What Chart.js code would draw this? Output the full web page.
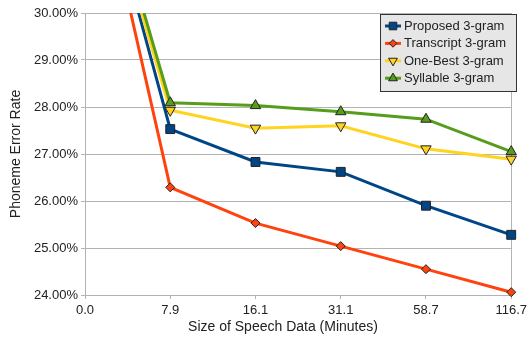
<!DOCTYPE html>
<html>
<head>
<meta charset="utf-8">
<script src="https://cdn.jsdelivr.net/npm/chart.js@4/dist/chart.umd.min.js"></script>
<style>
  html, body { margin: 0; padding: 0; background: #fff; }
  #wrap { width: 531px; height: 340px; }
</style>
</head>
<body>
<div id="wrap"><canvas id="perChart" width="531" height="340"></canvas></div>
<script>
// x categories (minutes of speech data)
let sizes = ['0.0', '7.9', '16.1', '31.1', '58.7', '116.7'];

// phoneme error rate in %, first point lies above the plotted range
let proposed   = [34.2, 27.53, 26.83, 26.62, 25.90, 25.28];
let transcript = [34.3, 26.29, 25.53, 25.04, 24.55, 24.06];
let oneBest    = [34.1, 27.93, 27.55, 27.60, 27.11, 26.89];
let syllable   = [34.3, 28.09, 28.03, 27.90, 27.74, 27.05];

let seriesNames = ['Proposed 3-gram', 'Transcript 3-gram', 'One-Best 3-gram', 'Syllable 3-gram'];

let yMin = 24;
let yMax = 30;

const FONT = 'Liberation Sans, Arial, sans-serif';
const GRID = '#b3b3b3';
const TEXT = '#222';
const EDGE = '#222';

const ctx_per = document.getElementById('perChart').getContext('2d');

function series(label, data, color, style, radius, rotation, order) {
    return {
        label: label,
        data: data,
        borderColor: color,
        backgroundColor: color,
        borderWidth: 3,
        pointStyle: style,
        pointRadius: radius,
        pointRotation: rotation,
        pointBackgroundColor: color,
        pointBorderColor: EDGE,
        pointBorderWidth: 1,
        tension: 0,
        fill: false,
        order: order,
        clip: { left: 0, top: 0, right: 10, bottom: 10 }
    };
}

// draw a marker by hand for the legend
function marker(c, style, x, y, r, rot, fill) {
    c.save();
    c.fillStyle = fill;
    c.strokeStyle = EDGE;
    c.lineWidth = 1;
    c.beginPath();
    if (style === 'rect') {
        let s = r * Math.SQRT1_2;
        c.rect(x - s, y - s, 2 * s, 2 * s);
    } else if (style === 'rectRot') {
        c.moveTo(x, y - r); c.lineTo(x + r, y); c.lineTo(x, y + r); c.lineTo(x - r, y);
        c.closePath();
    } else {
        let a = rot * Math.PI / 180;
        for (let i = 0; i < 3; i++) {
            let px = x + Math.sin(a) * r, py = y - Math.cos(a) * r;
            if (i === 0) c.moveTo(px, py); else c.lineTo(px, py);
            a += 2 * Math.PI / 3;
        }
        c.closePath();
    }
    c.fill();
    c.stroke();
    c.restore();
}

const extras = {
    id: 'extras',
    afterDraw(chart) {
        const c = chart.ctx;
        // x axis title
        c.save();
        c.font = '14px ' + FONT;
        c.fillStyle = TEXT;
        c.textAlign = 'center';
        c.textBaseline = 'middle';
        c.fillText('Size of Speech Data (Minutes)', 283, 327);
        c.restore();

        // legend box
        c.save();
        c.fillStyle = '#e6e6e6';
        c.fillRect(380, 14, 137, 77);
        c.strokeStyle = '#333';
        c.lineWidth = 1;
        c.strokeRect(380.5, 14.5, 136, 77);
        c.font = '13px ' + FONT;
        c.textBaseline = 'middle';
        c.textAlign = 'left';
        chart.data.datasets.forEach((ds, i) => {
            let y = 26 + i * 17.4;
            c.strokeStyle = ds.borderColor;
            c.lineWidth = 3;
            c.beginPath();
            c.moveTo(385, y);
            c.lineTo(401, y);
            c.stroke();
            marker(c, ds.pointStyle, 393, y, ds.pointRadius * 0.85, ds.pointRotation, ds.borderColor);
            c.fillStyle = TEXT;
            c.fillText(ds.label, 404, y + 0.5);
        });
        c.restore();
    }
};

let perChart = new Chart(ctx_per, {
    type: 'line',
    data: {
        labels: sizes,
        datasets: [
            series(seriesNames[0], proposed, '#004586', 'rect', 6.3, 0, 4),
            series(seriesNames[1], transcript, '#ff420e', 'rectRot', 4.5, 0, 3),
            series(seriesNames[2], oneBest, '#ffd320', 'triangle', 6, 180, 2),
            series(seriesNames[3], syllable, '#579d1c', 'triangle', 6, 0, 1)
        ]
    },
    options: {
        responsive: false,
        animation: false,
        layout: { padding: { top: 13, right: 16, left: 0, bottom: 0 } },
        plugins: {
            legend: { display: false },
            tooltip: { enabled: false }
        },
        scales: {
            x: {
                type: 'category',
                offset: false,
                grid: {
                    color: c => c.index === sizes.length - 1 ? GRID : 'rgba(0,0,0,0)',
                    tickColor: GRID,
                    tickLength: 4
                },
                border: { color: GRID },
                ticks: {
                    font: { family: FONT, size: 13 },
                    color: TEXT,
                    padding: 4,
                    maxRotation: 0,
                    autoSkip: false
                },
                afterFit: s => { s.height = 45; }
            },
            y: {
                min: yMin,
                max: yMax,
                grid: { color: GRID, tickColor: GRID, tickLength: 4 },
                border: { color: GRID },
                ticks: {
                    stepSize: 1,
                    font: { family: FONT, size: 13 },
                    color: TEXT,
                    padding: 3,
                    callback: v => v.toFixed(2) + '%'
                },
                title: {
                    display: true,
                    text: 'Phoneme Error Rate',
                    font: { family: FONT, size: 14 },
                    color: TEXT,
                    padding: { top: 8, bottom: 0 }
                },
                afterFit: s => { s.width = 85; }
            }
        }
    },
    plugins: [extras]
});
</script>
</body>
</html>
